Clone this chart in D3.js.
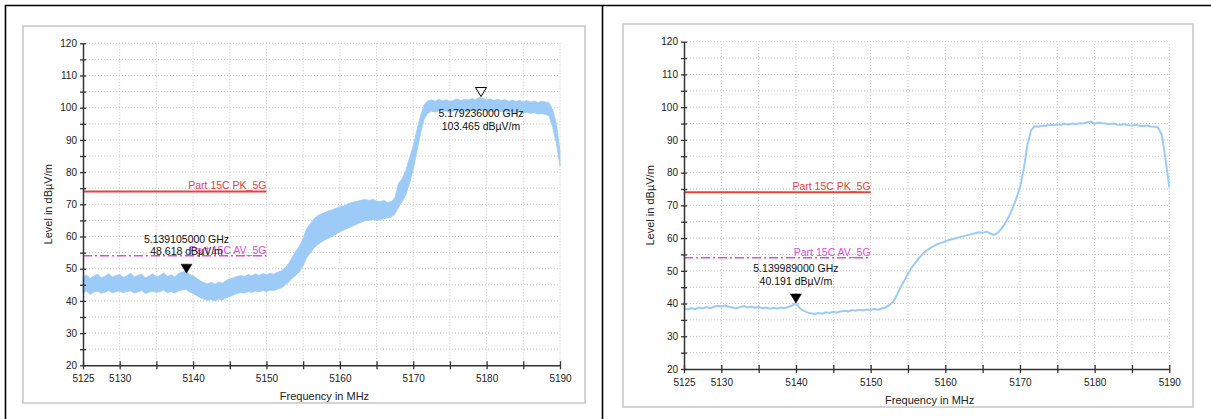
<!DOCTYPE html>
<html>
<head>
<meta charset="utf-8">
<script src="https://cdn.jsdelivr.net/npm/d3@7"></script>
<style>
  body { margin: 0; background: #fff; }
  svg text { font-family: "Liberation Sans", Arial, sans-serif; }
</style>
</head>
<body>
<svg id="chart" width="1211" height="419"></svg>
<script>
// sweep grid (MHz)
var sweepStart = 5125, sweepStep = 0.5;
var xTickValues = [5125, 5130, 5135, 5140, 5145, 5150, 5155, 5160, 5165, 5170, 5175, 5180, 5185, 5190];
var xTickLabels = [5125, 5130, 5140, 5150, 5160, 5170, 5180, 5190];
var yTickValues = [20, 25, 30, 35, 40, 45, 50, 55, 60, 65, 70, 75, 80, 85, 90, 95, 100, 105, 110, 115, 120];

// limit lines (dBuV/m), drawn from 5125 to 5150
var limitNames = ["Part 15C PK_5G", "Part 15C AV_5G"];
var limitLevels = [74, 54];
var limitRange = [5125, 5150];

// left plot: noisy peak trace, upper and lower edge of the band
var leftHi = [
  47.5, 48.0, 47.0, 47.8, 48.3, 47.2, 47.6, 48.5, 47.4, 47.9,
  48.2, 47.3, 47.8, 48.6, 47.5, 47.9, 48.3, 47.1, 47.7, 48.4,
  47.5, 47.9, 48.7, 47.6, 48.1, 47.4, 48.5, 48.9, 49.4, 48.2,
  47.8, 47.0, 46.2, 45.6, 45.3, 45.8, 45.2, 45.9, 45.5, 46.3,
  46.8, 47.2, 47.6, 47.9, 47.5, 48.2, 47.8, 48.4, 47.9, 48.5,
  48.1, 48.6, 48.3, 48.9, 49.3, 50.2, 51.5, 53.5, 55.5, 57.0,
  59.5, 62.5, 64.0, 65.5, 66.5, 67.0, 67.5, 68.0, 68.3, 68.8,
  69.2, 69.5, 70.0, 70.5, 70.8, 71.0, 71.3, 71.5, 71.2, 71.6,
  71.0, 70.8, 71.2, 70.6, 70.8, 72.0, 76.5, 78.0, 80.5, 84.5,
  88.0, 93.0, 97.5, 101.0, 102.2, 102.4, 102.0, 102.6, 102.1, 102.5,
  101.9, 102.3, 102.7, 102.2, 102.6, 102.4, 102.8, 102.5, 103.2, 102.9,
  102.4, 102.7, 102.2, 102.6, 102.3, 102.5, 102.0, 102.4, 101.9, 102.3,
  101.8, 102.2, 101.7, 102.1, 101.6, 102.0, 101.8, 101.5, 99.5, 95.0,
  86.5
];
var leftLo = [
  42.5, 43.0, 42.0, 42.8, 43.0, 42.4, 42.7, 43.2, 42.5, 42.9,
  43.0, 42.6, 42.9, 43.1, 42.4, 42.8, 43.2, 42.3, 42.7, 43.0,
  42.6, 42.9, 43.3, 42.5, 43.0, 42.4, 43.1, 43.4, 43.6, 42.8,
  42.3, 41.6, 41.0, 40.5, 40.2, 40.4, 40.0, 40.6, 40.3, 40.9,
  41.4, 41.8, 42.3, 42.6, 42.4, 42.9, 42.6, 43.1, 42.8, 43.2,
  42.9, 43.3, 43.2, 43.6, 44.0, 44.8, 45.8, 47.0, 48.0, 49.0,
  51.0, 53.5, 55.0, 56.5, 57.5, 58.3, 59.0, 59.5, 60.0, 60.8,
  61.5, 62.0, 62.5, 63.0, 63.5, 64.0, 64.5, 65.0, 65.0, 65.3,
  65.0, 65.2, 65.5, 65.8, 66.0, 67.0, 69.0, 71.0, 73.0, 76.5,
  81.0, 86.5, 92.0, 96.5, 98.3, 98.9, 98.6, 99.1, 98.8, 99.0,
  98.5, 98.9, 99.2, 98.8, 99.0, 98.7, 99.3, 99.0, 99.4, 99.1,
  98.9, 99.0, 98.7, 99.1, 98.8, 98.9, 98.5, 98.8, 98.4, 98.7,
  98.3, 98.6, 98.2, 98.5, 98.0, 98.2, 97.9, 97.5, 94.0, 89.0,
  82.0
];

// right plot: average-like trace
var rightLevel = [
  38.5, 38.2, 38.6, 38.3, 38.8, 38.5, 38.9, 38.6, 39.0, 39.3,
  39.1, 39.4, 39.0, 38.8, 38.5, 38.9, 39.2, 38.8, 39.1, 38.7,
  38.9, 38.6, 38.8, 38.4, 38.7, 38.5, 38.8, 38.6, 39.0, 39.4,
  40.2, 38.6, 37.8, 37.3, 37.0, 36.8, 37.1, 36.9, 37.3, 37.1,
  37.5, 37.3, 37.6, 37.8, 37.6, 38.0, 37.8, 38.1, 37.9, 38.2,
  38.0, 38.3, 38.1, 38.5, 38.8, 39.5, 40.5, 42.5, 45.0, 47.0,
  49.0, 51.0, 52.5, 54.0, 55.2, 56.2, 57.0, 57.6, 58.2, 58.6,
  59.0, 59.4, 59.7, 60.0, 60.3, 60.6, 60.9, 61.2, 61.5, 61.8,
  61.6, 62.0, 61.4, 61.0, 61.6, 62.8, 64.5, 66.5, 69.0, 72.0,
  75.5, 81.0, 88.5, 93.0, 94.2, 94.0, 94.4, 94.3, 94.6, 94.5,
  94.8, 94.6, 94.9, 94.7, 95.0, 94.8, 95.1, 95.0, 95.4, 95.6,
  94.9, 95.3, 95.1, 95.0, 94.8, 95.0, 94.7, 94.6, 94.8, 94.5,
  94.4, 94.6, 94.3, 94.2, 94.4, 94.1, 94.0, 93.8, 91.5, 84.0,
  75.5
];

// markers: [MHz, dBuV/m, filled]
var leftMarkers = [[5139.105, 48.618, true], [5179.236, 103.465, false]];
var rightMarkers = [[5139.989, 40.191, true]];

var svg = d3.select("#chart");
var traceColor = "#9dcbf8";

// outer table borders
svg.append("line").attr("x1", 5).attr("x2", 1211).attr("y1", 5.5).attr("y2", 5.5)
  .attr("stroke", "#000").attr("stroke-width", 1.6);
svg.append("line").attr("x1", 5.5).attr("x2", 5.5).attr("y1", 5).attr("y2", 419)
  .attr("stroke", "#000").attr("stroke-width", 1.6);
svg.append("line").attr("x1", 602.5).attr("x2", 602.5).attr("y1", 5).attr("y2", 419)
  .attr("stroke", "#000").attr("stroke-width", 1.6);

var SpectrumPanel = function(props) {
  this.box = props.box;
  this.plot = props.plot;
  this.titleX = props.titleX;
  this.draw(props);
};

SpectrumPanel.prototype.draw = function(props) {
  var p = this.plot;
  var g = svg.append("g");

  g.append("rect")
    .attr("x", this.box[0]).attr("y", this.box[1])
    .attr("width", this.box[2] - this.box[0]).attr("height", this.box[3] - this.box[1])
    .attr("fill", "#fff").attr("stroke", "#c6c6c6").attr("stroke-width", 1.5);

  var x = d3.scaleLinear().domain([5125, 5190]).range([p.left, p.right]);
  var y = d3.scaleLinear().domain([20, 120]).range([p.bottom, p.top]);

  // dotted grid
  var grid = g.append("g").attr("stroke", "#c4c4c4").attr("stroke-width", 1)
    .attr("stroke-dasharray", "1,2");
  grid.selectAll(".hg").data(yTickValues.slice(1)).enter().append("line")
    .attr("x1", x(5125)).attr("x2", x(5190))
    .attr("y1", function(d) { return y(d); }).attr("y2", function(d) { return y(d); });
  grid.selectAll(".vg").data(xTickValues.slice(1)).enter().append("line")
    .attr("y1", y(20)).attr("y2", y(120))
    .attr("x1", function(d) { return x(d); }).attr("x2", function(d) { return x(d); });

  // trace
  var pts = props.hi.map(function(h, i) {
    return { f: sweepStart + i * sweepStep, hi: h, lo: props.lo ? props.lo[i] : h };
  });
  if (props.lo) {
    g.append("path").datum(pts)
      .attr("d", d3.area().x(function(d) { return x(d.f); })
        .y0(function(d) { return y(d.lo); }).y1(function(d) { return y(d.hi); }))
      .attr("fill", traceColor).attr("stroke", traceColor).attr("stroke-width", 0.8);
  } else {
    g.append("path").datum(pts)
      .attr("d", d3.line().x(function(d) { return x(d.f); }).y(function(d) { return y(d.hi); }))
      .attr("fill", "none").attr("stroke", traceColor).attr("stroke-width", 2);
  }

  // limit lines
  var limitColors = ["#e8423c", "#e04ce0"];
  limitLevels.forEach(function(lv, i) {
    g.append("line")
      .attr("x1", x(limitRange[0])).attr("x2", x(limitRange[1]))
      .attr("y1", y(lv)).attr("y2", y(lv))
      .attr("stroke", limitColors[i]).attr("stroke-width", i === 0 ? 2 : 1.4)
      .attr("stroke-dasharray", i === 0 ? null : "9,3,2,3");
    g.append("text")
      .attr("x", x(limitRange[1])).attr("y", y(lv) - 2)
      .attr("text-anchor", "end").attr("font-size", "10.5px")
      .attr("fill", limitColors[i]).text(limitNames[i]);
  });

  // axes
  var yAxis = g.append("g").attr("transform", "translate(" + p.left + ",0)")
    .call(d3.axisLeft(y).tickValues(yTickValues).tickSizeInner(3).tickSizeOuter(0).tickPadding(3)
      .tickFormat(function(d) { return d % 10 === 0 ? d : ""; }));
  yAxis.selectAll(".tick line").attr("x1", 3);
  var xAxis = g.append("g").attr("transform", "translate(0," + p.bottom + ")")
    .call(d3.axisBottom(x).tickValues(xTickValues).tickSizeInner(4).tickSizeOuter(0).tickPadding(6)
      .tickFormat(function(d) { return xTickLabels.indexOf(d) >= 0 ? d : ""; }));
  xAxis.selectAll(".tick line").attr("y1", -4);
  [xAxis, yAxis].forEach(function(a) {
    a.select(".domain").attr("stroke", "#333").attr("stroke-width", 1.5);
    a.selectAll(".tick line").attr("stroke", "#333").attr("stroke-width", 1.3);
    a.selectAll("text").attr("font-size", "10px").attr("fill", "#222")
      .style("font-family", '"Liberation Sans", Arial, sans-serif');
  });

  g.append("text")
    .attr("transform", "translate(" + this.titleX + "," + (p.top + p.bottom) / 2 + ") rotate(-90)")
    .attr("text-anchor", "middle").attr("dy", "0.35em").attr("font-size", "11px").attr("fill", "#222")
    .text("Level in dBµV/m");
  g.append("text")
    .attr("x", (p.left + p.right) / 2 + 3).attr("y", p.bottom + 35)
    .attr("text-anchor", "middle").attr("font-size", "11px").attr("fill", "#222")
    .text("Frequency in MHz");

  // markers
  props.markers.forEach(function(m) {
    var mx = x(m[0]), my = y(m[1]);
    g.append("path")
      .attr("d", "M" + (mx - 5.5) + "," + (my - 9) + "L" + (mx + 5.5) + "," + (my - 9) + "L" + mx + "," + my + "Z")
      .attr("fill", m[2] ? "#000" : "#fff").attr("stroke", "#000").attr("stroke-width", m[2] ? 0.5 : 1);
    var lines = [(m[0] / 1000).toFixed(9) + " GHz", m[1].toFixed(3) + " dBµV/m"];
    var base = m[2] ? my - 9 - 9.5 - 12 : my + 20.5;
    lines.forEach(function(t, i) {
      g.append("text").attr("x", mx).attr("y", base + i * 12.5)
        .attr("text-anchor", "middle").attr("font-size", "10.5px").attr("fill", "#111")
        .text(t);
    });
  });
};

new SpectrumPanel({
  box: [23, 26, 585, 403],
  plot: { left: 83, right: 560, top: 43.3, bottom: 365.3 },
  titleX: 48,
  hi: leftHi, lo: leftLo,
  markers: leftMarkers
});
new SpectrumPanel({
  box: [623, 24, 1193, 407],
  plot: { left: 684, right: 1169.3, top: 41.7, bottom: 369 },
  titleX: 650,
  hi: rightLevel,
  markers: rightMarkers
});
</script>
</body>
</html>
